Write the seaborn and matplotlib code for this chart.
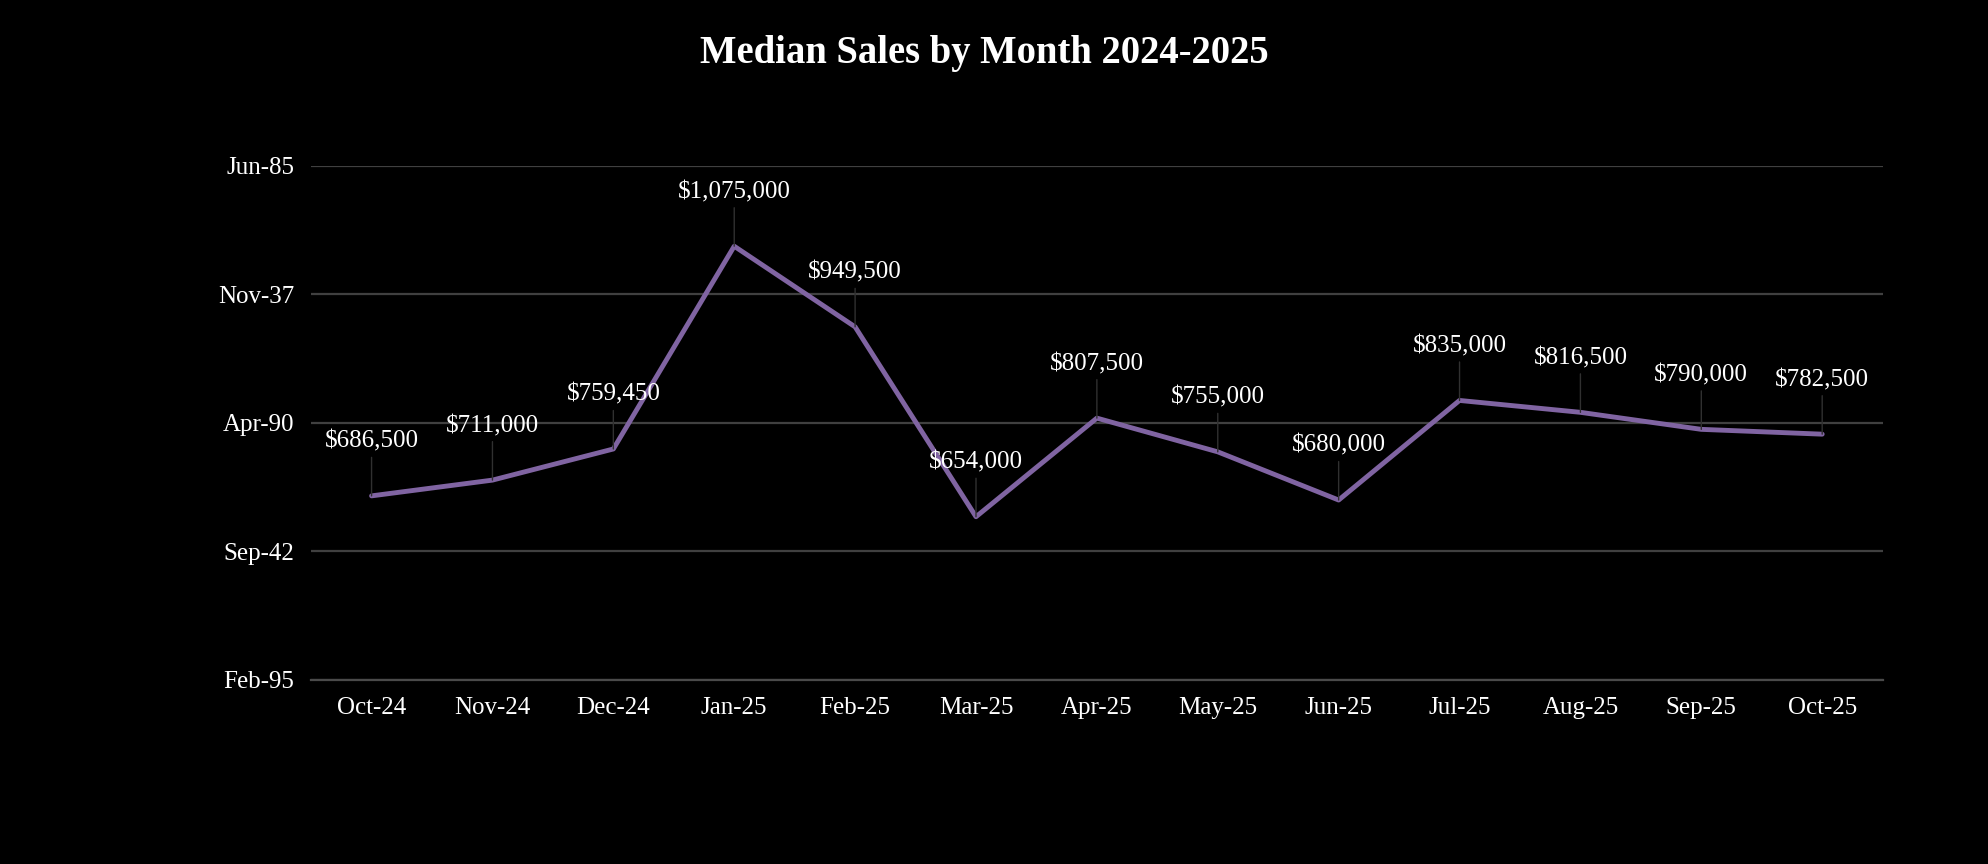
import matplotlib
matplotlib.use("Agg")
import matplotlib.pyplot as plt
import seaborn as sns
import pandas as pd

months = ["Oct-24", "Nov-24", "Dec-24", "Jan-25", "Feb-25", "Mar-25", "Apr-25",
          "May-25", "Jun-25", "Jul-25", "Aug-25", "Sep-25", "Oct-25"]
median_sales = [686500, 711000, 759450, 1075000, 949500, 654000, 807500,
                755000, 680000, 835000, 816500, 790000, 782500]
y_ticks = [400000, 600000, 800000, 1000000, 1200000]
y_tick_labels = ["Feb-95", "Sep-42", "Apr-90", "Nov-37", "Jun-85"]
title = "Median Sales by Month 2024-2025"

sns.set_theme(style="dark")
plt.rcParams["font.family"] = ["Liberation Serif", "DejaVu Serif"]

df = pd.DataFrame({"month": months, "sales": median_sales})

fig = plt.figure(figsize=(19.88, 8.64), dpi=100, facecolor="black")
ax = fig.add_axes([0.1565, 0.213, 0.7905, 0.595])
ax.set_facecolor("black")

sns.lineplot(data=df, x="month", y="sales", sort=False, ax=ax,
             color="#8064A2", linewidth=3.5)

ax.set_xlim(-0.5, len(months) - 0.5)
ax.set_ylim(y_ticks[0], y_ticks[-1])
ax.set_yticks(y_ticks)
ax.set_yticklabels(y_tick_labels)
ax.set_xticks(range(len(months)))
ax.set_xticklabels(months)
ax.set_xlabel("")
ax.set_ylabel("")

ax.grid(axis="y", color="#404040", linewidth=1.6)
ax.grid(axis="x", visible=False)
for s in ["top", "right", "left"]:
    ax.spines[s].set_visible(False)
ax.spines["bottom"].set_color("#4a4a4a")
ax.spines["bottom"].set_linewidth(1.6)
ax.tick_params(axis="both", length=0, colors="white", labelsize=18)
ax.tick_params(axis="y", pad=12)
ax.tick_params(axis="x", pad=12)

for i, v in enumerate(median_sales):
    ax.annotate(f"${v:,.0f}", xy=(i, v), xytext=(0, 39), textcoords="offset points",
                ha="center", va="center", color="white", fontsize=18,
                arrowprops=dict(arrowstyle="-", color="#303030", lw=1.0,
                                shrinkA=1, shrinkB=0))

fig.text(0.495, 0.938, title, ha="center", va="center", color="white",
         fontsize=27.8, fontweight="bold")

fig.savefig("out.png", dpi=100, facecolor="black")
